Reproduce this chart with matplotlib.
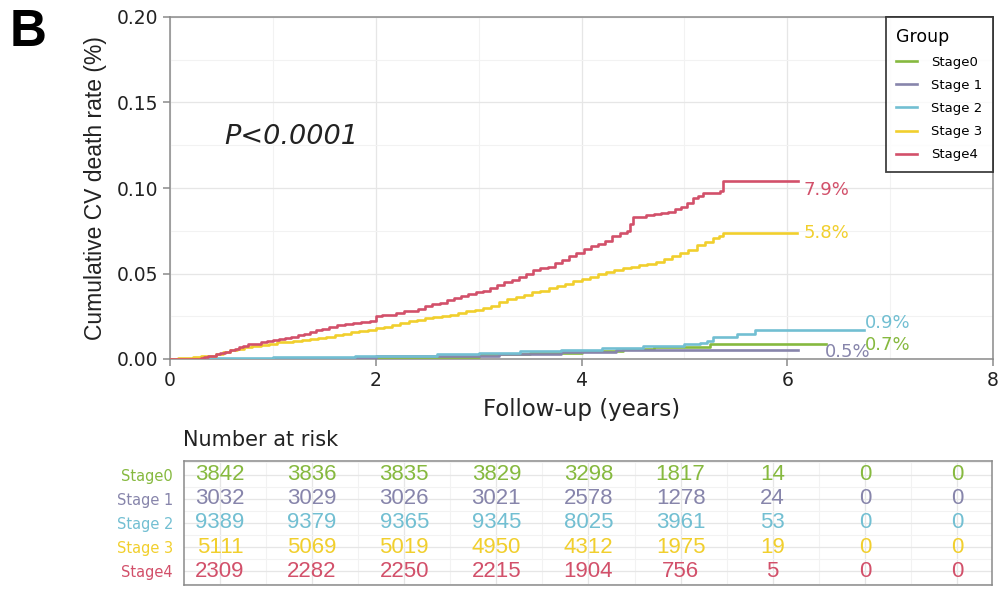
import matplotlib
matplotlib.use('Agg')
import matplotlib.pyplot as plt
import matplotlib.ticker as tk
from matplotlib import rcParams

rcParams['font.family'] = ['DejaVu Sans']

FIGSIZE = (10.05, 5.93)
DPI = 100

GROUPS = ['Stage0', 'Stage 1', 'Stage 2', 'Stage 3', 'Stage4']
COLORS = ['#86b93f', '#8785ab', '#72bfd2', '#f1cf2d', '#d2506a']

# cumulative incidence curves (step functions)
t_stage0 = [0, 1.0, 2.0, 3.0, 3.5, 4.0, 4.4, 4.7, 5.25, 6.38]
v_stage0 = [0, 0.0005, 0.0013, 0.0028, 0.0038, 0.0048, 0.006, 0.0072,
            0.0088, 0.0088]

t_stage1 = [0, 1.0, 2.0, 3.2, 3.8, 4.34, 6.1]
v_stage1 = [0, 0.0008, 0.0018, 0.003, 0.0042, 0.0053, 0.0053]

t_stage2 = [0, 0.3, 0.6, 1.0, 1.4, 1.8, 2.2, 2.6, 3.0, 3.4, 3.8, 4.2, 4.6,
            5.0, 5.15, 5.22, 5.28, 5.51, 5.69, 6.75]
v_stage2 = [0, 0.0003, 0.0006, 0.001, 0.0013, 0.0016, 0.002, 0.0027, 0.0035,
            0.0045, 0.0055, 0.0065, 0.0075, 0.0088, 0.0095, 0.0105, 0.0128,
            0.0147, 0.017, 0.017]

t_stage3 = [0, 0.08, 0.15, 0.22, 0.30, 0.38, 0.45, 0.52, 0.58, 0.65, 0.72,
            0.80, 0.88, 0.96, 1.04, 1.12, 1.20, 1.28, 1.36, 1.44, 1.52, 1.60,
            1.68, 1.76, 1.84, 1.92, 2.00, 2.08, 2.16, 2.24, 2.32, 2.40, 2.48,
            2.56, 2.64, 2.72, 2.80, 2.88, 2.96, 3.04, 3.12, 3.20, 3.28, 3.36,
            3.44, 3.52, 3.60, 3.68, 3.76, 3.84, 3.92, 4.00, 4.08, 4.16, 4.24,
            4.32, 4.40, 4.48, 4.56, 4.64, 4.72, 4.80, 4.88, 4.96, 5.04, 5.12,
            5.20, 5.28, 5.34, 5.38, 6.09]
v_stage3 = [0, 0.0003, 0.0006, 0.001, 0.0015, 0.002, 0.003, 0.0042, 0.005,
            0.006, 0.0068, 0.0074, 0.0082, 0.009, 0.0098, 0.0102, 0.0106,
            0.011, 0.0118, 0.0125, 0.013, 0.0138, 0.0145, 0.0155, 0.0165,
            0.0172, 0.018, 0.019, 0.020, 0.021, 0.022, 0.023, 0.0237, 0.0245,
            0.0253, 0.026, 0.027, 0.0278, 0.0287, 0.0296, 0.031, 0.0335,
            0.035, 0.036, 0.0375, 0.039, 0.040, 0.0413, 0.0425, 0.044, 0.0455,
            0.047, 0.048, 0.0495, 0.051, 0.0522, 0.053, 0.054, 0.0548, 0.0558,
            0.057, 0.0585, 0.0605, 0.062, 0.064, 0.0665, 0.0685, 0.0705,
            0.072, 0.0735, 0.0735]

t_stage4 = [0, 0.30, 0.33, 0.37, 0.41, 0.45, 0.49, 0.53, 0.58, 0.63, 0.67,
            0.71, 0.76, 0.82, 0.88, 0.94, 1.00, 1.06, 1.12, 1.18, 1.24, 1.30,
            1.36, 1.42, 1.48, 1.55, 1.62, 1.70, 1.78, 1.86, 1.94, 2.00, 2.06,
            2.13, 2.20, 2.27, 2.34, 2.41, 2.48, 2.55, 2.62, 2.69, 2.76, 2.83,
            2.90, 2.97, 3.04, 3.11, 3.18, 3.25, 3.32, 3.39, 3.46, 3.53, 3.60,
            3.67, 3.74, 3.81, 3.88, 3.95, 4.02, 4.09, 4.16, 4.23, 4.30, 4.37,
            4.44, 4.47, 4.50, 4.56, 4.63, 4.70, 4.77, 4.84, 4.91, 4.97, 5.03,
            5.08, 5.13, 5.18, 5.25, 5.35, 5.38, 6.10]
v_stage4 = [0, 0.0005, 0.001, 0.0015, 0.002, 0.003, 0.0035, 0.004, 0.005,
            0.006, 0.007, 0.0078, 0.0085, 0.009, 0.0097, 0.0105, 0.011,
            0.0115, 0.0125, 0.013, 0.014, 0.0148, 0.0155, 0.017, 0.0178,
            0.019, 0.020, 0.0205, 0.021, 0.0215, 0.0225, 0.025, 0.0255, 0.026,
            0.027, 0.0278, 0.028, 0.029, 0.031, 0.032, 0.033, 0.0345, 0.0355,
            0.037, 0.038, 0.039, 0.040, 0.0415, 0.0435, 0.045, 0.046, 0.048,
            0.0495, 0.052, 0.053, 0.054, 0.056, 0.058, 0.060, 0.062, 0.0645,
            0.066, 0.067, 0.069, 0.072, 0.0735, 0.075, 0.079, 0.083, 0.083,
            0.0845, 0.085, 0.0855, 0.086, 0.088, 0.089, 0.091, 0.094, 0.0955,
            0.097, 0.097, 0.0985, 0.104, 0.104]

TIMES = [t_stage0, t_stage1, t_stage2, t_stage3, t_stage4]
VALUES = [v_stage0, v_stage1, v_stage2, v_stage3, v_stage4]

END_LABELS = ['0.7%', '0.5%', '0.9%', '5.8%', '7.9%']
END_LABEL_X = [6.75, 6.37, 6.75, 6.16, 6.16]
END_LABEL_Y = [0.0083, 0.0043, 0.0212, 0.0738, 0.099]

RISK_TIMES = [0, 1, 2, 3, 4, 5, 6, 7, 8]
risk_stage0 = [3842, 3836, 3835, 3829, 3298, 1817, 14, 0, 0]
risk_stage1 = [3032, 3029, 3026, 3021, 2578, 1278, 24, 0, 0]
risk_stage2 = [9389, 9379, 9365, 9345, 8025, 3961, 53, 0, 0]
risk_stage3 = [5111, 5069, 5019, 4950, 4312, 1975, 19, 0, 0]
risk_stage4 = [2309, 2282, 2250, 2215, 1904, 756, 5, 0, 0]
RISK = [risk_stage0, risk_stage1, risk_stage2, risk_stage3, risk_stage4]

GRID_MAJOR = '#e6e6e6'
GRID_MINOR = '#f2f2f2'
BORDER = '#8a8a8a'
TEXT = '#222222'
ARIAL = ['Liberation Sans', 'DejaVu Sans']


def px(x0, y0, x1, y1):
    W, H = FIGSIZE[0] * DPI, FIGSIZE[1] * DPI
    return [x0 / W, 1 - y1 / H, (x1 - x0) / W, (y1 - y0) / H]


def style_box(ax):
    for s in ax.spines.values():
        s.set_color(BORDER)
        s.set_linewidth(1.1)


fig = plt.figure(figsize=FIGSIZE, dpi=DPI)

# main curves
ax = fig.add_axes(px(170, 17, 993, 359))
for i in range(len(GROUPS)):
    ax.plot(TIMES[i], VALUES[i], drawstyle='steps-post', color=COLORS[i],
            lw=1.9, label=GROUPS[i], zorder=3 + (i == 4))
    ax.text(END_LABEL_X[i], END_LABEL_Y[i], END_LABELS[i], color=COLORS[i],
            fontsize=13, ha='left', va='center', zorder=5)

ax.set_xlim(0, 8)
ax.set_ylim(0, 0.20)
ax.xaxis.set_major_locator(tk.MultipleLocator(2))
ax.xaxis.set_minor_locator(tk.MultipleLocator(1))
ax.yaxis.set_major_locator(tk.MultipleLocator(0.05))
ax.yaxis.set_minor_locator(tk.MultipleLocator(0.025))
ax.yaxis.set_major_formatter(tk.FormatStrFormatter('%.2f'))
ax.grid(which='major', color=GRID_MAJOR, lw=0.9)
ax.grid(which='minor', color=GRID_MINOR, lw=0.8)
ax.set_axisbelow(True)
ax.tick_params(which='major', labelsize=13.5, colors=BORDER, labelcolor=TEXT,
               length=5, width=1.1)
ax.tick_params(which='minor', length=0)
style_box(ax)
ax.set_xlabel('Follow-up (years)', fontsize=16.5, color=TEXT, labelpad=6)
ax.set_ylabel('Cumulative CV death rate (%)', fontsize=16.5, color=TEXT,
              labelpad=7, family=ARIAL)
ax.text(0.53, 0.13, 'P<0.0001', fontsize=19.5, style='italic', color=TEXT,
        ha='left', va='center')

leg = ax.legend(title='Group', loc='upper right', fontsize=9.5,
                title_fontsize=12.5, frameon=True, fancybox=False,
                handlelength=1.6, handletextpad=1.05, borderpad=0.8,
                labelspacing=0.77, borderaxespad=0.0)
leg.get_frame().set_edgecolor('#111111')
leg.get_frame().set_linewidth(1.3)
leg._legend_box.align = 'left'

fig.text(10 / 1005, 1 - 33 / 593, 'B', fontsize=37, fontweight='bold',
         va='center', ha='left', family=ARIAL)

# number at risk table
tax = fig.add_axes(px(184, 461, 992, 585))
n_rows = len(GROUPS)
for i in range(n_rows):
    for j, t in enumerate(RISK_TIMES):
        tax.text(t, i, str(RISK[i][j]), color=COLORS[i], fontsize=16,
                 ha='center', va='center', family=ARIAL)
tax.set_xlim(-0.39, 8.38)
tax.set_ylim(n_rows - 1 + 0.56, -0.56)
tax.xaxis.set_major_locator(tk.MultipleLocator(1))
tax.xaxis.set_minor_locator(tk.MultipleLocator(0.5))
tax.yaxis.set_major_locator(tk.MultipleLocator(1))
tax.yaxis.set_minor_locator(tk.MultipleLocator(0.5))
tax.grid(which='major', color=GRID_MAJOR, lw=0.9)
tax.grid(which='minor', color=GRID_MINOR, lw=0.8)
tax.set_axisbelow(True)
tax.tick_params(which='both', length=0, labelbottom=False)
tax.set_yticks(range(n_rows))
tax.set_yticklabels(GROUPS, fontsize=10.5)
for lab, c in zip(tax.get_yticklabels(), COLORS):
    lab.set_color(c)
tax.tick_params(axis='y', pad=8)
style_box(tax)
fig.text(183 / 1005, 1 - 440 / 593, 'Number at risk', fontsize=15,
         color=TEXT, ha='left', va='center')

plt.savefig('out.png', dpi=DPI)
plt.close()
